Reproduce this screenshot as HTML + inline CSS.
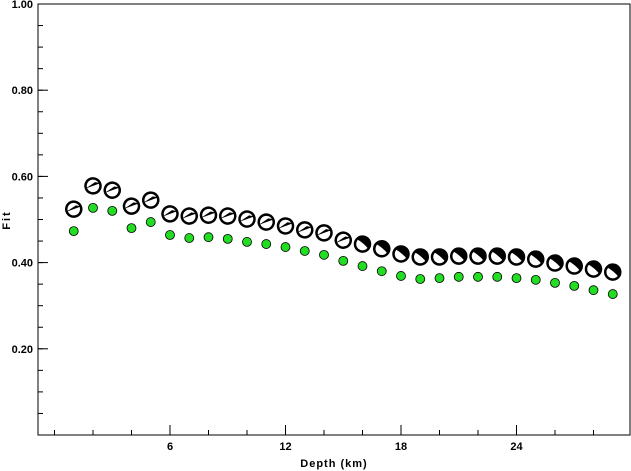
<!DOCTYPE html>
<html><head><meta charset="utf-8"><style>
body{margin:0;background:#fff}
svg{display:block}
text{font-family:"Liberation Sans",sans-serif;font-weight:bold;font-size:11px;fill:#000}
</style></head><body>
<svg width="631" height="471">
<g id="axes"></g><g id="marks"></g>
</svg>
<script>
const depths=[1,2,3,4,5,6,7,8,9,10,11,12,13,14,15,16,17,18,19,20,21,22,23,24,25,26,27,28,29];
const fitGreen=[0.473,0.527,0.520,0.480,0.494,0.464,0.457,0.459,0.455,0.448,0.443,0.436,0.427,0.418,0.404,0.392,0.380,0.369,0.362,0.364,0.367,0.367,0.367,0.364,0.360,0.353,0.346,0.336,0.327];
const fitBall=[0.524,0.578,0.568,0.531,0.545,0.513,0.508,0.510,0.508,0.501,0.494,0.485,0.476,0.469,0.452,0.443,0.432,0.420,0.413,0.413,0.415,0.415,0.415,0.413,0.408,0.399,0.392,0.385,0.378];
const yTicks=[0.20,0.40,0.60,0.80,1.00];
const yTickLabels=["0.20","0.40","0.60","0.80","1.00"];
const xTicks=[6,12,18,24];
const NS="http://www.w3.org/2000/svg";
const X=d=>54.5+d*19.25;
const Y=v=>435-v*431;
function mk(tag,attrs,parent,txt){const e=document.createElementNS(NS,tag);for(const k in attrs)e.setAttribute(k,attrs[k]);if(txt!==undefined)e.textContent=txt;parent.appendChild(e);return e;}
const ax=document.getElementById('axes'),mg=document.getElementById('marks');
const frame=mk('rect',{x:38,y:4,width:592,height:431,fill:'none',stroke:'#000','stroke-width':1},ax);


for(let v=0.05;v<1.0;v+=0.05){const t=mk('line',{x1:38,x2:43,y1:Y(v),y2:Y(v),stroke:'#000'},ax);}
yTicks.forEach((v,i)=>{
 const t=mk('line',{x1:38,x2:48,y1:Y(v),y2:Y(v),stroke:'#000'},ax);
 
 
 const l=mk('text',{x:33,y:Y(v)+4,'text-anchor':'end'},ax,yTickLabels[i]);
 
 
});
for(let d=0;d<=29;d+=2){const t=mk('line',{x1:X(d),x2:X(d),y1:435,y2:430,stroke:'#000'},ax);}
xTicks.forEach(d=>{
 const t=mk('line',{x1:X(d),x2:X(d),y1:435,y2:425,stroke:'#000'},ax);
 
 
 const l=mk('text',{x:X(d),y:450,'text-anchor':'middle'},ax,String(d));
 
 
});
const xt=mk('text',{x:334,y:467,'text-anchor':'middle','font-size':'12','letter-spacing':'1'},ax,'Depth (km)');


const yt=mk('text',{x:10,y:220,'text-anchor':'middle','font-size':'12','letter-spacing':'2',transform:'rotate(-90 10 220)'},ax,'Fit');


depths.forEach((d,i)=>{
 const c=mk('circle',{cx:X(d),cy:Y(fitGreen[i]),r:4.5,fill:'#22dd22',stroke:'#000','stroke-width':0.8},mg);
 
 
});
depths.forEach((d,i)=>{
 const cx=X(d),cy=Y(fitBall[i]),r=8;
 const g=mk('g',{transform:`translate(${cx},${cy}) rotate(${d<=15?-20:40})`},mg);
 
 
 mk('circle',{cx:0,cy:0,r:r,fill:'#fff'},g);
 if(d<=15){
  mk('path',{d:`M${-r} 0 L${r} 0 L${r*0.4} ${-r*0.35} Z`,fill:'#000'},g);
 } else {
  mk('path',{d:`M${-r} 0 A${r} ${r} 0 0 1 ${r} 0 Q0 ${-r*0.2} ${-r} 0 Z`,fill:'#000'},g);
 }
 mk('circle',{cx:0,cy:0,r:r-0.5,fill:'none',stroke:'#000','stroke-width':2.5},g);
});
</script>
</body></html>
